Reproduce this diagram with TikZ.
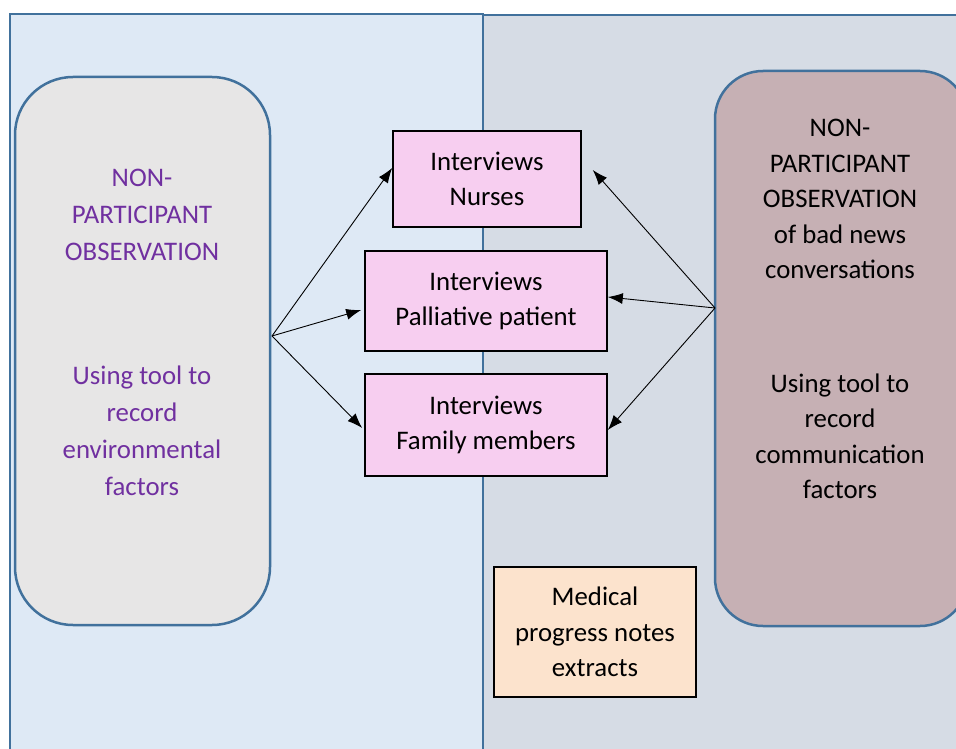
\documentclass[tikz,border=0pt]{standalone}
\usepackage{fontspec}
\setmainfont{Carlito}
\usetikzlibrary{arrows.meta}
\definecolor{panelL}{HTML}{DEE9F5}
\definecolor{panelR}{HTML}{D6DCE5}
\definecolor{edgeblue}{HTML}{41719C}
\definecolor{greybox}{HTML}{E7E6E6}
\definecolor{mauvebox}{HTML}{C6B0B4}
\definecolor{pinkbox}{HTML}{F7CEF0}
\definecolor{peachbox}{HTML}{FCE3CD}
\definecolor{obspurple}{HTML}{7030A0}
\tikzset{
  panel/.style={draw=edgeblue, line width=2pt},
  obsbox/.style={draw=edgeblue, line width=2.5pt, rounded corners=#1},
  interview/.style={draw=black, line width=1.6pt, fill=pinkbox, inner sep=0pt, align=center},
  bodytext/.style={align=center, font=\fontsize{26.8}{35.5}\selectfont},
  link/.style={-{Latex[length=15pt,width=11pt]}, line width=0.9pt}
}
\begin{document}
\begin{tikzpicture}[x=1pt,y=-1pt]
    \useasboundingbox (0,0) rectangle (956,749);
    \fill[white] (0,0) rectangle (956,749);
    % the two panels
    \filldraw[panel, fill=panelL] (10,14) rectangle (483,770);
    \filldraw[panel, fill=panelR] (483,15) rectangle (970,770);
    % observation boxes
    \filldraw[obsbox=58pt, fill=greybox] (15,77) rectangle (270,625);
    \filldraw[obsbox=48pt, fill=mauvebox] (715,71) rectangle (968,626);
    \node[bodytext, text=obspurple, font=\fontsize{26.8}{37}\selectfont] at (142,332) (obsL) {NON-\\PARTICIPANT\\OBSERVATION\\[87pt]Using tool to\\record\\environmental\\factors};
    \node[bodytext] at (840,309) (obsR) {NON-\\PARTICIPANT\\OBSERVATION\\of bad news\\conversations\\[78pt]Using tool to\\record\\communication\\factors};
    % interview boxes
    \node[interview, bodytext, minimum width=188pt, minimum height=96pt] at (487,179) (nurses) {Interviews\\Nurses};
    \node[interview, bodytext, minimum width=242pt, minimum height=100pt] at (486,301) (patient) {Interviews\\Palliative patient};
    \node[interview, bodytext, minimum width=242pt, minimum height=102pt] at (486,425) (family) {Interviews\\Family members};
    \node[interview, bodytext, fill=peachbox, minimum width=202pt, minimum height=130pt] at (595,632) (notes) {Medical\\progress notes\\extracts};
    % connectors
    \coordinate (hubL) at (272,336);
    \coordinate (hubR) at (715,308);
    \path [link] (hubL) edge ([yshift=11pt]nurses.west);
    \path [link] (hubL) edge ([xshift=-3pt,yshift=-9pt]patient.west);
    \path [link] (hubL) edge ([xshift=-2pt,yshift=-3pt]family.west);
    \path [link] (hubR) edge ([xshift=11pt,yshift=9pt]nurses.east);
    \path [link] (hubR) edge ([yshift=4pt]patient.east);
    \path [link] (hubR) edge ([yshift=-5pt]family.east);
\end{tikzpicture}
\end{document}
